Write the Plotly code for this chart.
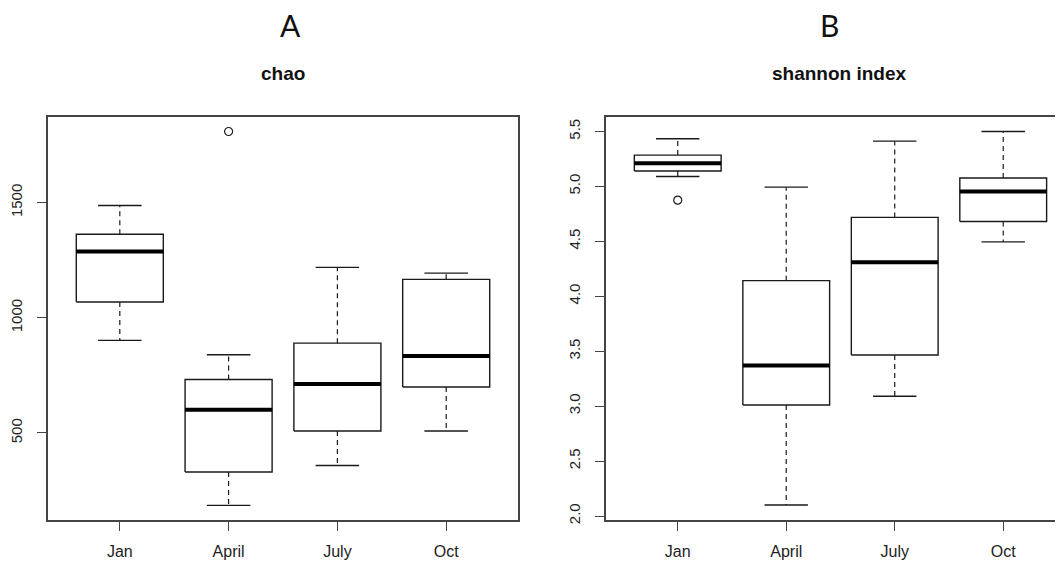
import plotly.graph_objects as go

months = ["Jan", "April", "July", "Oct"]
positions = [1, 2, 3, 4]

# chao (panel A)
chao_lower = [902, 186, 359, 509]
chao_q1 = [1069, 331, 509, 700]
chao_median = [1288, 601, 713, 834]
chao_q3 = [1363, 732, 890, 1167]
chao_upper = [1488, 840, 1219, 1194]
chao_out_x = [2]
chao_out_y = [1809]

# shannon index (panel B)
sh_lower = [5.09, 2.10, 3.09, 4.495]
sh_q1 = [5.14, 3.01, 3.466, 4.68]
sh_median = [5.21, 3.37, 4.31, 4.954]
sh_q3 = [5.285, 4.142, 4.718, 5.077]
sh_upper = [5.433, 4.993, 5.412, 5.50]
sh_out_x = [1]
sh_out_y = [4.875]

sh_ticks = [2.0, 2.5, 3.0, 3.5, 4.0, 4.5, 5.0, 5.5]
chao_ticks = [500, 1000, 1500]

HALF = 0.4
CAP = 0.2
LINE = "#1a1a1a"


def box_traces(lower, q1, med, q3, upper, ox, oy, xa, ya):
    rx, ry, mx, my, wx, wy, sx, sy = [], [], [], [], [], [], [], []
    for p, lo, a, m, b, up in zip(positions, lower, q1, med, q3, upper):
        rx += [p - HALF, p + HALF, p + HALF, p - HALF, p - HALF, None]
        ry += [a, a, b, b, a, None]
        mx += [p - HALF, p + HALF, None]
        my += [m, m, None]
        wx += [p, p, None, p, p, None]
        wy += [b, up, None, a, lo, None]
        sx += [p - CAP, p + CAP, None, p - CAP, p + CAP, None]
        sy += [up, up, None, lo, lo, None]
    common = dict(xaxis=xa, yaxis=ya, showlegend=False, hoverinfo="skip", mode="lines")
    return [
        go.Scatter(x=wx, y=wy, line=dict(color=LINE, width=1.2, dash="5px,4px"), **common),
        go.Scatter(x=sx, y=sy, line=dict(color=LINE, width=1.4), **common),
        go.Scatter(x=rx, y=ry, line=dict(color=LINE, width=1.4), **common),
        go.Scatter(x=mx, y=my, line=dict(color="#000000", width=4), **common),
        go.Scatter(x=ox, y=oy, mode="markers", xaxis=xa, yaxis=ya, showlegend=False,
                   marker=dict(symbol="circle-open", size=8, color=LINE, line=dict(width=1.2))),
    ]


fig = go.Figure()
for t in box_traces(chao_lower, chao_q1, chao_median, chao_q3, chao_upper,
                    chao_out_x, chao_out_y, "x", "y"):
    fig.add_trace(t)
for t in box_traces(sh_lower, sh_q1, sh_median, sh_q3, sh_upper,
                    sh_out_x, sh_out_y, "x2", "y2"):
    fig.add_trace(t)

# page body adds an offset; lay out in window pixels and compensate
OFFX, OFFY = 8, 5
W, H = 1063 - 8, 565 - 8


def px(x):
    return (x - OFFX) / W


def py(y):
    return 1 - (y - OFFY) / H


ydom = [py(521), py(114.3)]
tickfont_x = dict(family="Liberation Sans, Arial", size=16, color="#222")
tickfont_y = dict(family="Liberation Sans, Arial", size=15, color="#222")
axis_common = dict(showgrid=False, zeroline=False, showline=True, linecolor="#444",
                   linewidth=1.5, ticks="outside", ticklen=9, tickcolor="#444", tickwidth=1.2)

fig.update_layout(
    width=W, height=H,
    margin=dict(l=0, r=0, t=0, b=0),
    paper_bgcolor="white", plot_bgcolor="white",
    xaxis=dict(domain=[px(48), px(518)], range=[0.34, 4.66], tickvals=positions,
               ticktext=months, mirror=True, tickfont=tickfont_x, anchor="y",
               ticklabelstandoff=7, **axis_common),
    yaxis=dict(domain=ydom, range=[121, 1874], tickvals=chao_ticks, tickangle=-90,
               mirror=True, tickfont=tickfont_y, anchor="x", ticklabelstandoff=9,
               **axis_common),
    xaxis2=dict(domain=[px(605.7), 1.0], range=[0.336, 4.551], tickvals=positions,
                ticktext=months, mirror=True, tickfont=tickfont_x, anchor="y2",
                ticklabelstandoff=7, **axis_common),
    yaxis2=dict(domain=ydom, range=[1.961, 5.636], tickvals=sh_ticks, tickformat=".1f",
                tickangle=-90, mirror=False, tickfont=tickfont_y, anchor="x2",
                ticklabelstandoff=9, **axis_common),
    annotations=[
        dict(text="A", x=px(290), y=py(22), xref="paper", yref="paper", showarrow=False,
             xanchor="center", yanchor="middle", font=dict(family="Lato", size=30, color="#111")),
        dict(text="B", x=px(829), y=py(22), xref="paper", yref="paper", showarrow=False,
             xanchor="center", yanchor="middle", font=dict(family="Lato", size=30, color="#111")),
        dict(text="<b>chao</b>", x=px(283), y=py(71), xref="paper", yref="paper",
             showarrow=False, xanchor="center", yanchor="middle",
             font=dict(family="Liberation Sans, Arial", size=19, color="#111")),
        dict(text="<b>shannon index</b>", x=px(839), y=py(71), xref="paper", yref="paper",
             showarrow=False, xanchor="center", yanchor="middle",
             font=dict(family="Liberation Sans, Arial", size=19, color="#111")),
    ],
)

fig.write_html("out.html")
